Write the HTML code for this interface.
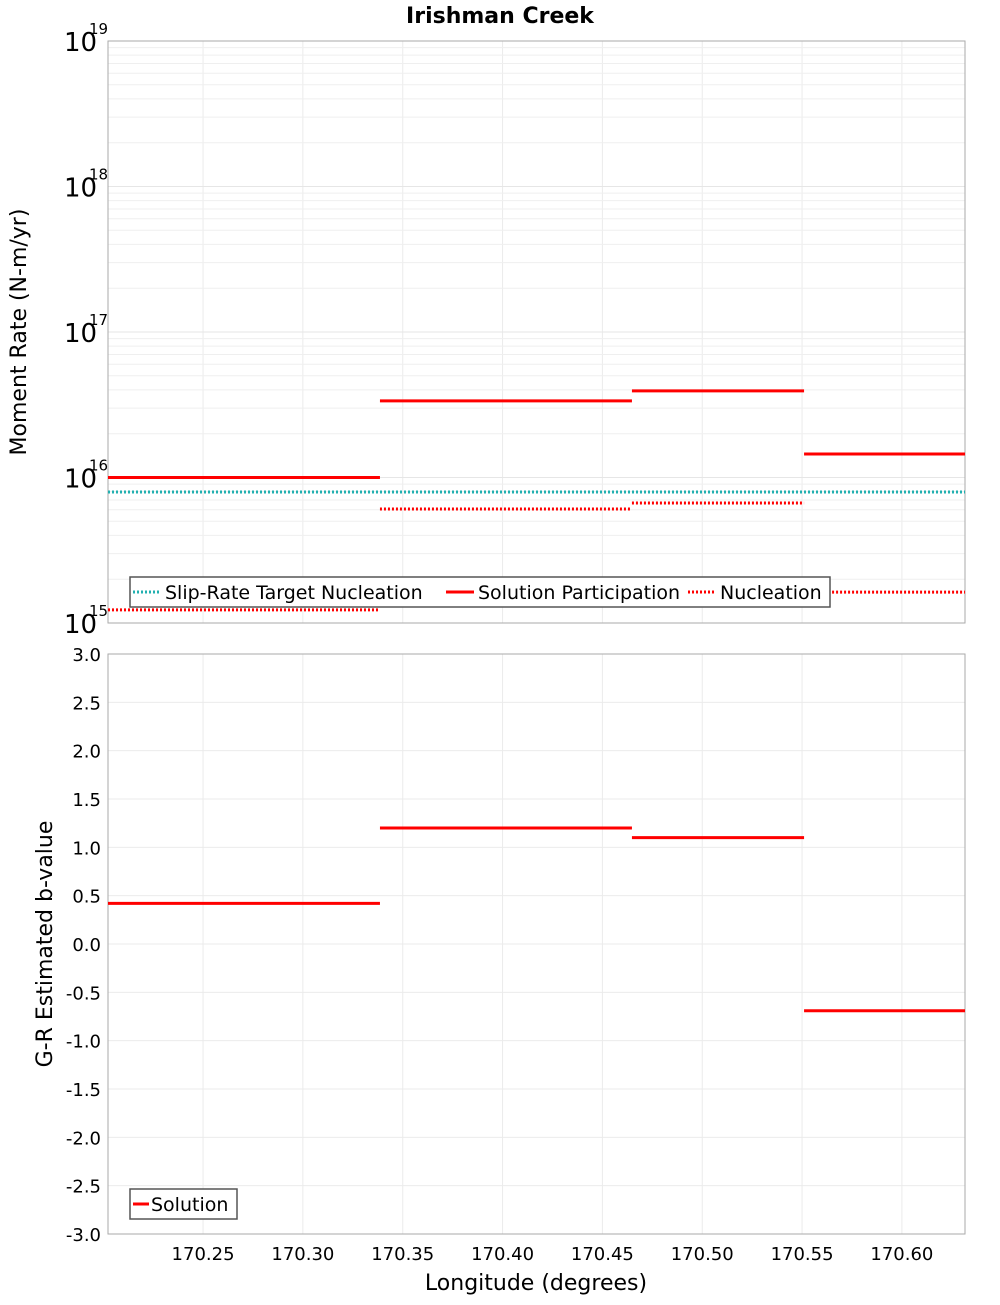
<!DOCTYPE html>
<html><head><meta charset="utf-8"><style>
body{margin:0;background:#fff;}
svg text{font-family:"DejaVu Sans","Liberation Sans",sans-serif;}
</style></head><body>
<svg id="chart" width="1000" height="1300" xmlns="http://www.w3.org/2000/svg">
<text x="500" y="23" text-anchor="middle" font-size="22" font-weight="bold">Irishman Creek</text>
<g id="topPanel"></g>
<g id="botPanel"></g>
<text transform="translate(26,332) rotate(-90)" text-anchor="middle" font-size="22">Moment Rate (N-m/yr)</text>
<text transform="translate(52,944) rotate(-90)" text-anchor="middle" font-size="22">G-R Estimated b-value</text>
<text x="536" y="1290" text-anchor="middle" font-size="22">Longitude (degrees)</text>
</svg>
<script>
const segEdges=[170.2024,170.3386,170.4648,170.551,170.6316];
const participation=[1.0e16,3.36e16,3.94e16,1.45e16];
const nucleation=[1.23e15,6.08e15,6.68e15,1.63e15];
const targetNucleation=7.95e15;
const bValues=[0.42,1.2,1.1,-0.69];
const xTicks=[170.25,170.30,170.35,170.40,170.45,170.50,170.55,170.60];
const logDecades=[15,16,17,18,19];
const bTicks=[3.0,2.5,2.0,1.5,1.0,0.5,0.0,-0.5,-1.0,-1.5,-2.0,-2.5,-3.0];

const NS='http://www.w3.org/2000/svg';
const L=108,R=965,T1=41,B1=623,T2=654,B2=1234;
const xs=v=>L+(v-170.2024)/(170.6316-170.2024)*(R-L);
const ys1=v=>B1-(Math.log10(v)-15)/4*(B1-T1);
const ys2=v=>B2-(v+3)/6*(B2-T2);
function mk(p,tag,a){const e=document.createElementNS(NS,tag);for(const k in a)e.setAttribute(k,a[k]);p.appendChild(e);return e;}
const topG=document.getElementById('topPanel'),botG=document.getElementById('botPanel');

for(const t of xTicks){
  for(const [g,T,B] of [[topG,T1,B1],[botG,T2,B2]]){
    const l=mk(g,'line',{x1:xs(t),x2:xs(t),y1:T,y2:B,stroke:'#ebebeb','stroke-width':1});
    
    
  }
  const tx=mk(botG,'text',{x:xs(t),y:B2+26,'text-anchor':'middle','font-size':18});
  tx.textContent=t.toFixed(2);
  
  
}
for(let d=15;d<19;d++){for(let m=1;m<10;m++){
  const y=ys1(m*Math.pow(10,d));
  const l=mk(topG,'line',{x1:L,x2:R,y1:y,y2:y,stroke:m==1?'#e6e6e6':'#efefef','stroke-width':1});
  
  
}}
for(const d of logDecades){
  const y=ys1(Math.pow(10,d));
  const t=mk(topG,'text',{x:64,y:y+10,'font-size':26});
  t.textContent='10';
  
  
  const s=mk(topG,'text',{x:89,y:y-7,'font-size':15});
  s.textContent=String(d);
  
  
}
for(const b of bTicks){
  const y=ys2(b);
  const l=mk(botG,'line',{x1:L,x2:R,y1:y,y2:y,stroke:'#ebebeb','stroke-width':1});
  
  
  const t=mk(botG,'text',{x:101,y:y+7,'text-anchor':'end','font-size':18});
  t.textContent=b.toFixed(1);
  
  
}
const f1=mk(topG,'rect',{x:L,y:T1,width:R-L,height:B1-T1,fill:'none',stroke:'#aaa'});


const f2=mk(botG,'rect',{x:L,y:T2,width:R-L,height:B2-T2,fill:'none',stroke:'#aaa'});



const tl=mk(topG,'line',{x1:L,x2:R,y1:ys1(targetNucleation),y2:ys1(targetNucleation),stroke:'#22b0b0','stroke-width':3,'stroke-dasharray':'2,2'});


for(let i=0;i<participation.length;i++){
  const x1=xs(segEdges[i]),x2=xs(segEdges[i+1]);
  const p=mk(topG,'line',{x1,x2,y1:ys1(participation[i]),y2:ys1(participation[i]),stroke:'#f00','stroke-width':3});
  
  
  const n=mk(topG,'line',{x1,x2,y1:ys1(nucleation[i]),y2:ys1(nucleation[i]),stroke:'#f00','stroke-width':3,'stroke-dasharray':'2,2'});
  
  
  const b=mk(botG,'line',{x1,x2,y1:ys2(bValues[i]),y2:ys2(bValues[i]),stroke:'#f00','stroke-width':3});
  
  
}

const lg=mk(topG,'g',{});


mk(lg,'rect',{x:130,y:577,width:700,height:30,fill:'#fff',stroke:'#555','stroke-width':1.5});
const items=[['Slip-Rate Target Nucleation','#22b0b0',true,133],['Solution Participation','#f00',false,446],['Nucleation','#f00',true,688]];
for(const [lab,c,dot,x] of items){
  mk(lg,'line',{x1:x,x2:x+28,y1:592,y2:592,stroke:c,'stroke-width':3,'stroke-dasharray':dot?'2,2':'none'});
  const t=mk(lg,'text',{x:x+32,y:599,'font-size':19});
  t.textContent=lab;
  
  
}
const lg2=mk(botG,'g',{});


mk(lg2,'rect',{x:130,y:1189,width:107,height:30,fill:'#fff',stroke:'#555','stroke-width':1.5});
mk(lg2,'line',{x1:133,x2:149,y1:1204,y2:1204,stroke:'#f00','stroke-width':3});
const st=mk(lg2,'text',{x:151,y:1211,'font-size':19});
st.textContent='Solution';


</script>
</body></html>
